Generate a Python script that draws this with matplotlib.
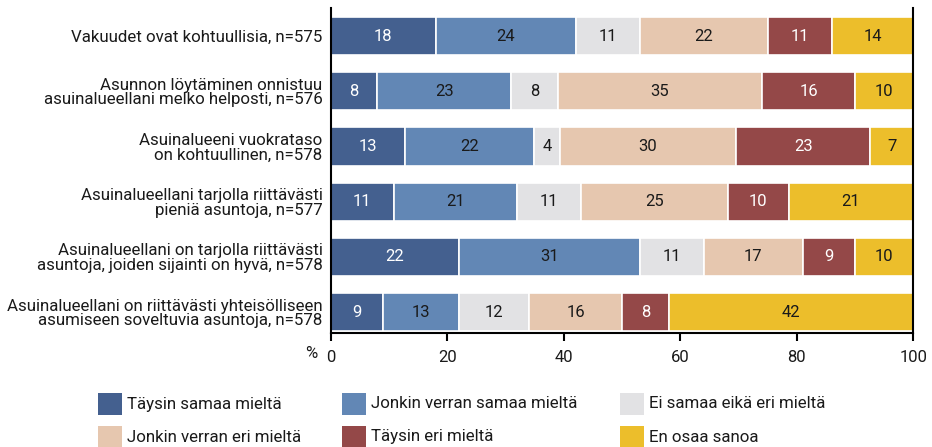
import matplotlib
matplotlib.use("Agg")
import matplotlib.pyplot as plt
from matplotlib.patches import Rectangle
import numpy as np

plt.rcParams['font.family'] = ['Roboto', 'DejaVu Sans']

categories = [
    "Vakuudet ovat kohtuullisia, n=575",
    "Asunnon löytäminen onnistuu\nasuinalueellani melko helposti, n=576",
    "Asuinalueeni vuokrataso\non kohtuullinen, n=578",
    "Asuinalueellani tarjolla riittävästi\npieniä asuntoja, n=577",
    "Asuinalueellani on tarjolla riittävästi\nasuntoja, joiden sijainti on hyvä, n=578",
    "Asuinalueellani on riittävästi yhteisölliseen\nasumiseen soveltuvia asuntoja, n=578",
]
series_names = [
    "Täysin samaa mieltä",
    "Jonkin verran samaa mieltä",
    "Ei samaa eikä eri mieltä",
    "Jonkin verran eri mieltä",
    "Täysin eri mieltä",
    "En osaa sanoa",
]
taysin_samaa = [18, 8, 12.7, 10.8, 22, 9]
jonkin_samaa = [24, 23, 22.2, 21.2, 31, 13]
ei_samaa_eika = [11, 8, 4.4, 11.0, 11, 12]
jonkin_eri = [22, 35, 30.3, 25.2, 17, 16]
taysin_eri = [11, 16, 23.0, 10.4, 9, 8]
en_osaa = [14, 10, 7.4, 21.4, 10, 42]
xticks = [0, 20, 40, 60, 80, 100]

series = [taysin_samaa, jonkin_samaa, ei_samaa_eika, jonkin_eri, taysin_eri, en_osaa]
colors = ["#44608f", "#6287b5", "#e2e2e4", "#e6c7af", "#944848", "#ecbe2b"]
text_colors = ["white", "#1a1a1a", "#1a1a1a", "#1a1a1a", "white", "#1a1a1a"]

fig = plt.figure(figsize=(9.32, 4.47), dpi=100)
ax = fig.add_axes([0.355, 0.255, 0.625, 0.726])

y = np.arange(len(categories))
left = np.zeros(len(categories))
for vals, col, tcol in zip(series, colors, text_colors):
    vals = np.array(vals, dtype=float)
    ax.barh(y, vals, left=left, height=0.69, color=col,
            edgecolor="white", linewidth=1.2)
    for yi, l, v in zip(y, left, vals):
        ax.text(l + v / 2, yi, f"{round(v):d}", ha="center", va="center",
                color=tcol, fontsize=12)
    left += vals

ax.set_xlim(0, 100)
ax.set_ylim(5.38, -0.5)
ax.set_yticks(y)
ax.set_yticklabels(categories, fontsize=12.2, linespacing=0.95, color="#1a1a1a")
ax.tick_params(axis="y", length=0, pad=6)
ax.set_xticks(xticks)
ax.set_xticklabels([str(t) for t in xticks], fontsize=12, color="#1a1a1a")
ax.tick_params(axis="x", direction="out", length=6, width=1.5, color="black", pad=6)
ax.spines["top"].set_visible(False)
for s in ["left", "right", "bottom"]:
    ax.spines[s].set_linewidth(1.5)
    ax.spines[s].set_color("black")

# percent sign before 0
fig.text(317 / 932, 1 - 354 / 447, "%", ha="right", va="center", fontsize=12, color="#1a1a1a")

# Legend
pos = [(98, 404), (98, 437), (342, 404), (342, 437), (620, 404), (620, 437)]
order = [0, 3, 1, 4, 2, 5]
W, H = 932, 447
for (px, py), idx in zip(pos, order):
    fig.add_artist(Rectangle((px / W, 1 - (py + 11) / H), 24 / W, 22 / H,
                             transform=fig.transFigure, facecolor=colors[idx],
                             edgecolor="none"))
    fig.text((px + 29) / W, 1 - py / H, series_names[idx], ha="left", va="center",
             fontsize=12.2, color="#1a1a1a")

fig.savefig("out.png", dpi=100)
